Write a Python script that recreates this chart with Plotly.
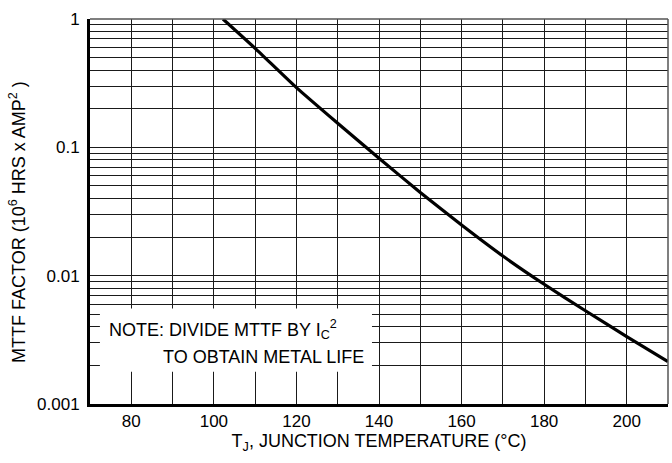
import plotly.graph_objects as go
import numpy as np

# Curve data
temp_c = [102.2, 110, 120, 130, 140, 150, 160, 170, 180, 190, 200, 210]
mttf_factor = [1.0, 0.591, 0.292, 0.154, 0.0822, 0.0445, 0.0248, 0.01422, 0.00857, 0.00533, 0.00335, 0.00214]

x_ticks = [80, 100, 120, 140, 160, 180, 200]
y_ticks = [0.001, 0.01, 0.1, 1]
y_tick_labels = ["0.001", "0.01", "0.1", "1"]
y_minor = [m * 10.0**e for e in (-3, -2, -1) for m in range(2, 10)]
x_minor = list(range(70, 211, 10))

FONT = "Liberation Sans, Arial, sans-serif"
GRID = "#1a1a1a"

fig = go.Figure()
fig.add_trace(go.Scatter(x=temp_c, y=mttf_factor, mode="lines",
                         line=dict(color="black", width=3.2, shape="spline", smoothing=0.5),
                         showlegend=False, hoverinfo="skip"))

fig.update_layout(
    width=672, height=463,
    margin=dict(l=90, r=4, t=19, b=59, autoexpand=False),
    paper_bgcolor="white", plot_bgcolor="white",
    font=dict(family=FONT, size=17, color="black"),
    xaxis=dict(range=[70, 210], tickvals=x_ticks, ticks="", showgrid=True,
               gridcolor=GRID, gridwidth=1.3,
               minor=dict(tickvals=x_minor, showgrid=True, gridcolor=GRID, gridwidth=1.3),
               showline=True, linecolor="black", linewidth=3,
               ticklabelstandoff=0, zeroline=False, automargin=False,
               tickfont=dict(size=17),
               title=dict(text="T<sub>J</sub>, JUNCTION TEMPERATURE (°C)", standoff=4,
                          font=dict(size=18))),
    yaxis=dict(type="log", range=[-3, 0], tickvals=y_ticks, ticktext=y_tick_labels,
               ticks="", showgrid=True, gridcolor=GRID, gridwidth=1.3,
               minor=dict(tickvals=y_minor, showgrid=True, gridcolor=GRID, gridwidth=1.3),
               showline=True, linecolor="black", linewidth=3,
               ticklabelstandoff=4, zeroline=False, automargin=False,
               tickfont=dict(size=17)),
)

# y-axis title as rotated annotation (positioned as in reference)
fig.add_annotation(xref="paper", yref="paper", x=-0.1246, y=0.473,
                   xanchor="center", yanchor="middle", textangle=-90, showarrow=False,
                   text="MTTF FACTOR (10<sup>6</sup> HRS x AMP<sup>2</sup> )",
                   font=dict(size=18))

# Note box blanking the grid
fig.add_shape(type="rect", xref="x", yref="y", x0=72.4, x1=138.3, y0=0.00178, y1=0.00556,
              fillcolor="white", line=dict(width=0), layer="between")
# top and right borders
fig.add_shape(type="line", xref="paper", yref="paper", x0=0, x1=1, y0=1, y1=1,
              line=dict(color="#555", width=1.5))
fig.add_shape(type="line", xref="paper", yref="paper", x0=1, x1=1, y0=0, y1=1,
              line=dict(color="#555", width=1.5))

fig.add_annotation(x=74.0, y=np.log10(0.00382), xref="x", yref="y", xanchor="left",
                   text="NOTE: DIVIDE MTTF BY I<sub>C</sub><sup>2</sup>", showarrow=False,
                   font=dict(size=18))
fig.add_annotation(x=136.8, y=np.log10(0.00234), xref="x", yref="y", xanchor="right",
                   text="TO OBTAIN METAL LIFE", showarrow=False, font=dict(size=18))

fig.write_html("out.html", config={"displayModeBar": False},
               post_script="document.body.style.margin='0';document.body.style.overflow='hidden';")
